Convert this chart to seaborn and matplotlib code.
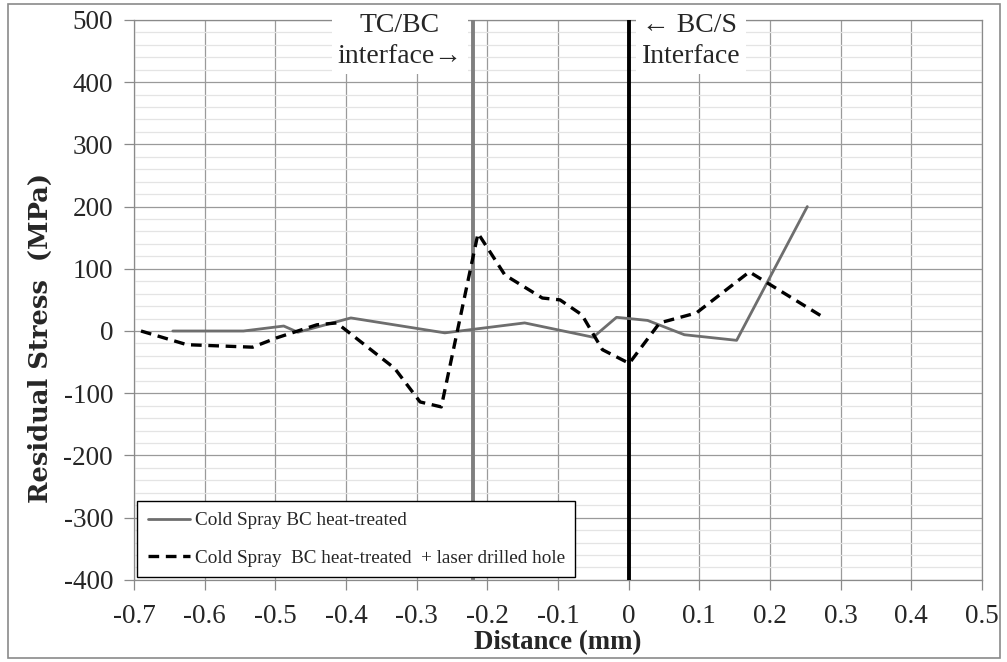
import numpy as np
import pandas as pd
from matplotlib import pyplot as plt
from matplotlib.patches import Rectangle
from matplotlib.ticker import MultipleLocator
import seaborn as sns

sns.set_style("whitegrid")
plt.rcParams["font.family"] = ["Liberation Serif", "DejaVu Serif"]
plt.rcParams["axes.unicode_minus"] = False

# data
x_heat = [-0.645, -0.545, -0.488, -0.468, -0.393, -0.26, -0.147, -0.05,
          -0.017, 0.027, 0.079, 0.153, 0.253]
y_heat = [0, 0, 8, -2, 21, -3, 13, -10, 22, 17, -6, -15, 200]

x_laser = [-0.69, -0.625, -0.532, -0.498, -0.441, -0.413, -0.331, -0.295,
           -0.265, -0.213, -0.175, -0.122, -0.097, -0.066, -0.037, 0.001,
           0.044, 0.096, 0.171, 0.273]
y_laser = [0, -22, -26, -11, 10, 13, -60, -114, -122, 157, 90, 53, 50, 26,
           -30, -52, 13, 29, 95, 24]

label_heat = "Cold Spray BC heat-treated"
label_laser = "Cold Spray  BC heat-treated  + laser drilled hole"

tc_bc_x = -0.22
bc_s_x = 0.0

df_heat = pd.DataFrame({"distance": x_heat, "stress": y_heat})
df_laser = pd.DataFrame({"distance": x_laser, "stress": y_laser})

fig = plt.figure(figsize=(10.07, 6.62), dpi=100)
ax = fig.add_axes([0.133, 0.124, 0.842, 0.846])

sns.lineplot(data=df_heat, x="distance", y="stress", sort=False, ax=ax,
             color="#6e6e6e", linewidth=2.0, label=label_heat, zorder=4)
sns.lineplot(data=df_laser, x="distance", y="stress", sort=False, ax=ax,
             color="black", linewidth=2.4, label=label_laser, zorder=5)
ax.lines[-1].set_dashes((3.2, 2.0))

ax.axvline(tc_bc_x, color="#7f7f7f", linewidth=2.8, zorder=3)
ax.axvline(bc_s_x, color="black", linewidth=2.8, zorder=3)

ax.set_xlim(-0.7, 0.5)
ax.set_ylim(-400, 500)
ax.yaxis.set_major_locator(MultipleLocator(100))
ax.yaxis.set_minor_locator(MultipleLocator(20))
ax.set_xticks(np.arange(-0.7, 0.51, 0.1))
ax.set_xticklabels(["-0.7", "-0.6", "-0.5", "-0.4", "-0.3", "-0.2", "-0.1",
                    "0", "0.1", "0.2", "0.3", "0.4", "0.5"])

ax.grid(which="major", color="#9a9a9a", linewidth=0.9)
ax.grid(which="minor", axis="y", color="#e4e4e4", linewidth=0.9)
ax.grid(which="minor", axis="x", visible=False)
for side in ax.spines.values():
    side.set_color("#8a8a8a")
    side.set_linewidth(0.9)

ax.tick_params(axis="both", which="major", length=7, width=0.9,
               color="#8a8a8a", labelsize=19.5, direction="out",
               bottom=True, left=True)
ax.tick_params(axis="x", pad=10)
ax.tick_params(axis="y", pad=8)
ax.tick_params(which="minor", length=0)

ax.set_xlabel("Distance (mm)", fontsize=19.3, fontweight="bold")
ax.set_ylabel("Residual Stress  (MPa)", fontsize=18.5, fontweight="bold",
              family=["DejaVu Serif"])
ax.xaxis.set_label_coords(0.5, -0.089)
ax.yaxis.set_label_coords(-0.095, 0.432)

box = dict(facecolor="white", edgecolor="none", pad=4)
ax.text(-0.324, 466, "TC/BC\ninterface\u2192", ha="center", va="center",
        multialignment="center", fontsize=20, linespacing=1.3, bbox=box,
        clip_on=False, zorder=6)
ax.text(0.0185, 466, "\u2190 BC/S\nInterface", ha="left", va="center",
        multialignment="left", fontsize=20, linespacing=1.3, bbox=box,
        clip_on=False, zorder=6)

leg = ax.legend(loc="lower left", bbox_to_anchor=(0.004, 0.005), fontsize=13.75,
                frameon=True, fancybox=False, edgecolor="black",
                handlelength=2.2, handletextpad=0.25, labelspacing=1.05,
                borderpad=0.55, borderaxespad=0)
leg.get_frame().set_linewidth(1.0)
leg.get_frame().set_alpha(1)
leg.set_zorder(7)

fig.patches.append(Rectangle((8 / 1007, 4 / 662), 992 / 1007, 654 / 662,
                             transform=fig.transFigure, fill=False,
                             edgecolor="#8a8a8a", linewidth=1.2))

plt.savefig("out.png", dpi=100)
plt.close()
